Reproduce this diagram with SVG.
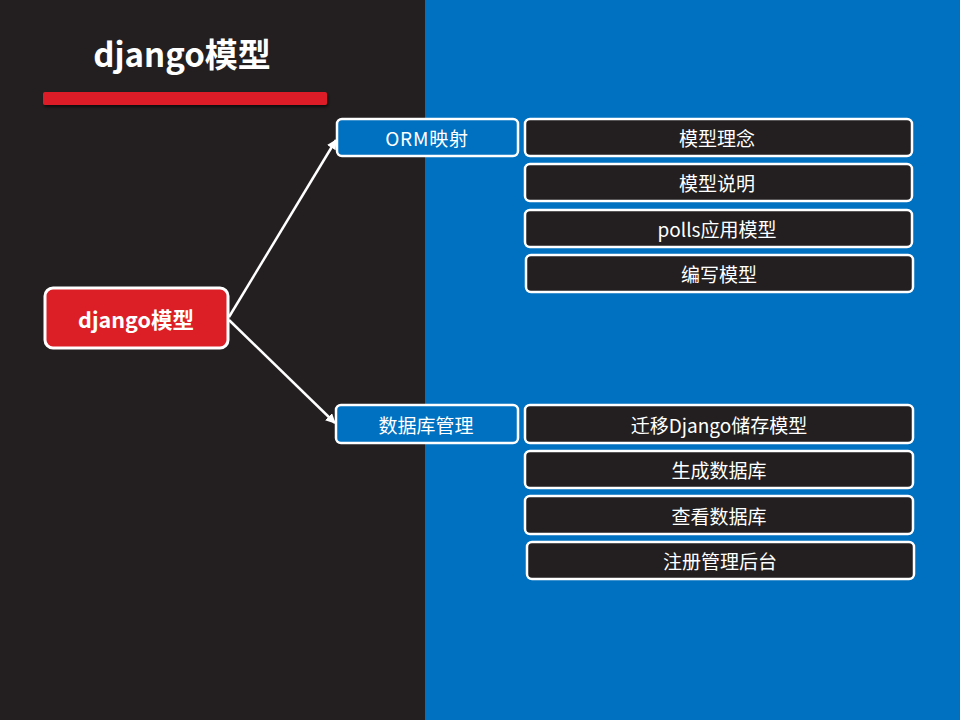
<svg xmlns="http://www.w3.org/2000/svg" width="960" height="720" viewBox="0 0 960 720">
<defs>
<style>
.t{font-family:"Noto Sans CJK SC","Noto Sans",sans-serif;fill:#fff;text-anchor:middle;dominant-baseline:central}
.sub{fill:#0070C0;stroke:#fff;stroke-width:2.5}
.leaf{fill:#231F20;stroke:#fff;stroke-width:2.5}
.con{stroke:#fff;stroke-width:2.5;fill:none;marker-end:url(#arr)}
</style>
<marker id="arr" viewBox="0 0 10 10" refX="9" refY="5" markerWidth="4" markerHeight="4" orient="auto" markerUnits="strokeWidth">
<path d="M0,0 L10,5 L0,10 z" fill="#fff"/>
</marker>
<filter id="sh" x="-10%" y="-50%" width="120%" height="250%">
<feDropShadow dx="1" dy="2" stdDeviation="1.5" flood-color="#000" flood-opacity="0.6"/>
</filter>
</defs>
<rect x="0" y="0" width="425" height="720" fill="#231F20"/>
<rect x="425" y="0" width="535" height="720" fill="#0070C0"/>
<g id="title">
<text class="t" x="182" y="53" font-size="33" font-weight="bold">django模型</text>
<rect x="43" y="92" width="284" height="13" rx="2" fill="#DC1F26" filter="url(#sh)"/>
</g>
<g id="connectors">
<line class="con" x1="229" y1="317" x2="336" y2="140"/>
<line class="con" x1="229" y1="320" x2="335" y2="423"/>
</g>
<g id="root">
<rect x="45" y="288" width="183" height="60" rx="8" fill="#DC1F26" stroke="#fff" stroke-width="3"/>
<text class="t" x="136" y="318" font-size="21.5" font-weight="bold">django模型</text>
</g>
<g id="orm">
<rect class="sub" x="337" y="119" width="181" height="37" rx="5"/>
<text class="t" x="427" y="137" font-size="19" letter-spacing="0.8">ORM映射</text>
</g>
<g id="leaf1">
<rect class="leaf" x="525" y="119" width="387" height="37" rx="5"/>
<text class="t" x="717" y="137" font-size="19">模型理念</text>
</g>
<g id="leaf2">
<rect class="leaf" x="525" y="164" width="387" height="37" rx="5"/>
<text class="t" x="717" y="182" font-size="19">模型说明</text>
</g>
<g id="leaf3">
<rect class="leaf" x="525" y="210" width="387" height="37" rx="5"/>
<text class="t" x="717" y="228" font-size="19">polls应用模型</text>
</g>
<g id="leaf4">
<rect class="leaf" x="526" y="255" width="387" height="37" rx="5"/>
<text class="t" x="719" y="273" font-size="19">编写模型</text>
</g>
<g id="db">
<rect class="sub" x="336" y="405" width="182" height="38" rx="5"/>
<text class="t" x="426" y="424" font-size="19">数据库管理</text>
</g>
<g id="leaf5">
<rect class="leaf" x="525" y="405" width="388" height="38" rx="5"/>
<text class="t" x="719" y="424" font-size="19">迁移Django储存模型</text>
</g>
<g id="leaf6">
<rect class="leaf" x="525" y="451" width="388" height="37" rx="5"/>
<text class="t" x="719" y="469" font-size="19">生成数据库</text>
</g>
<g id="leaf7">
<rect class="leaf" x="525" y="496" width="388" height="38" rx="5"/>
<text class="t" x="719" y="515" font-size="19">查看数据库</text>
</g>
<g id="leaf8">
<rect class="leaf" x="527" y="542" width="387" height="37" rx="5"/>
<text class="t" x="720" y="560" font-size="19">注册管理后台</text>
</g>
</svg>
